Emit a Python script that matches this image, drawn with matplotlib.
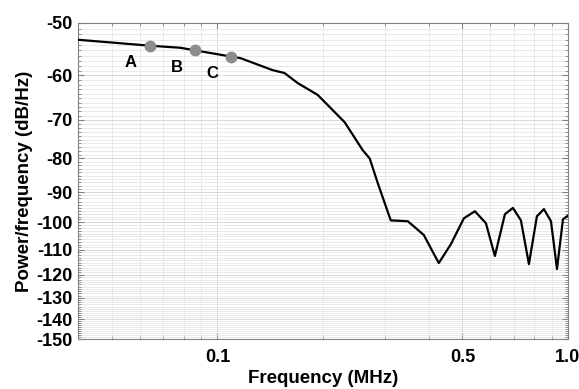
import numpy as np
import matplotlib
matplotlib.use("Agg")
import matplotlib.pyplot as plt
from matplotlib.ticker import FixedLocator, NullFormatter

# spectrum (frequency in MHz, PSD in dB/Hz)
freq_mhz = [0.04, 0.064, 0.0784, 0.0865, 0.1096, 0.1163, 0.1436, 0.1553, 0.1693,
            0.1931, 0.2306, 0.2596, 0.2719, 0.2865, 0.3121, 0.349, 0.3656, 0.3879,
            0.4279, 0.4632, 0.5046, 0.5424, 0.5832, 0.6186, 0.6607, 0.6964, 0.7339,
            0.7736, 0.8153, 0.8537, 0.8942, 0.9302, 0.9676, 1.0]
psd_db = [-53.0, -54.1, -54.5, -55.0, -56.2, -56.5, -58.9, -59.5, -61.6,
          -64.2, -70.6, -77.8, -80.1, -87.2, -99.3, -99.6, -101.7, -104.5,
          -115.2, -107.9, -98.6, -96.2, -100.3, -112.4, -97.2, -95.1, -99.3,
          -115.6, -97.9, -95.5, -99.6, -117.6, -98.9, -97.7]

# marked points
point_names = ["A", "B", "C"]
point_freq = [0.064, 0.0865, 0.1096]
point_db = [-54.1, -55.0, -56.2]

y_ticks = list(range(-150, -49, 10))
x_ticks = [0.1, 0.5, 1.0]
x_tick_labels = ["0.1", "0.5", "1.0"]
x_minor = [0.04, 0.05, 0.06, 0.07, 0.08, 0.09, 0.2, 0.3, 0.4, 0.6, 0.7, 0.8, 0.9]

plt.rcParams["font.family"] = ["Liberation Sans", "DejaVu Sans"]
plt.rcParams["font.weight"] = "bold"


# y axis is logarithmic in |dB| (as in the source figure)
def fwd(y):
    y = np.asarray(y, dtype=float)
    return -np.log10(np.clip(-y, 1e-6, None))


def inv(t):
    return -10.0 ** (-np.asarray(t, dtype=float))


fig = plt.figure(figsize=(5.79, 3.89), dpi=100)
ax = fig.add_axes([0.1347, 0.1285, 0.8463, 0.8124])

ax.set_xscale("log")
ax.set_yscale("function", functions=(fwd, inv))

ax.plot(freq_mhz, psd_db, color="black", lw=1.6, zorder=3)
ax.plot(point_freq, point_db, "o", color="#8c8c8c", ms=7.5, zorder=4)
for name, f, d in zip(point_names, point_freq, point_db):
    ax.annotate(name, (f, d), xytext=(-19, -17), textcoords="offset pixels",
                fontsize=12, fontweight="bold", ha="center", va="center")

ax.set_xlim(0.04, 1.0)
ax.set_ylim(-150, -50)

ax.xaxis.set_major_locator(FixedLocator(x_ticks))
ax.set_xticklabels(x_tick_labels)
ax.xaxis.set_minor_locator(FixedLocator(x_minor))
ax.xaxis.set_minor_formatter(NullFormatter())

ax.yaxis.set_major_locator(FixedLocator(y_ticks))
ax.set_yticklabels([str(v) for v in y_ticks])
ax.yaxis.set_minor_locator(FixedLocator(list(range(-149, -50))))
ax.yaxis.set_minor_formatter(NullFormatter())

ax.grid(which="major", color="#d8d8d8", lw=0.7)
ax.grid(which="minor", color="#e6e6e6", lw=0.6)
ax.set_axisbelow(True)

ax.tick_params(which="both", direction="in", top=True, right=True, color="#808080")
ax.tick_params(which="major", length=4, labelsize=13, pad=4)
ax.tick_params(axis="x", which="major", pad=7)
ax.tick_params(which="minor", length=2.5)
for s in ax.spines.values():
    s.set_color("#808080")
    s.set_linewidth(0.8)

ax.set_xlabel("Frequency (MHz)", fontsize=13.5, fontweight="bold", labelpad=3)
ax.set_ylabel("Power/frequency (dB/Hz)", fontsize=13.5, fontweight="bold", labelpad=2)

fig.savefig("out.png", dpi=100)
